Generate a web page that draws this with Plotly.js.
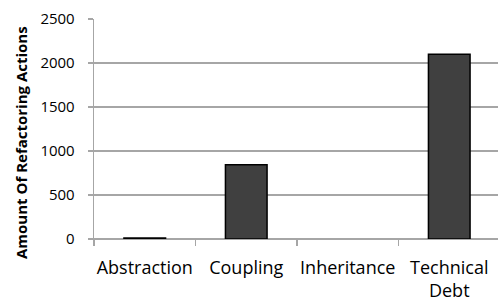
<!DOCTYPE html>
<html>
<head>
<meta charset="utf-8">
<script src="https://cdn.plot.ly/plotly-3.0.1.min.js"></script>
<style>html,body{margin:0;padding:0;overflow:hidden;background:#fff;}</style>
</head>
<body>
<div id="chart"></div>
<script>
const categories = ["Abstraction", "Coupling", "Inheritance", "Technical<br>Debt"];
const refactoringActions = [10, 845, 0, 2100];
const yTickValues = [0, 500, 1000, 1500, 2000, 2500];
const yTitle = "Amount Of Refactoring Actions";

const grid = "#a6a6a6";
const trace = {
  type: "bar",
  x: categories,
  y: refactoringActions,
  marker: {
    color: "#404040",
    line: {color: "#000000", width: refactoringActions.map(v => v === 0 ? 0 : 1.5)}
  },
  hoverinfo: "none"
};

const layout = {
  width: 500,
  height: 302,
  margin: {l: 94, r: 0, t: 19, b: 63, pad: 0},
  paper_bgcolor: "#ffffff",
  plot_bgcolor: "#ffffff",
  bargap: 0.59,
  showlegend: false,
  font: {family: "Open Sans, sans-serif", color: "#000000"},
  xaxis: {
    type: "category",
    tickson: "boundaries",
    tickangle: 0,
    ticks: "outside",
    ticklen: 6,
    tickcolor: grid,
    tickwidth: 1.3,
    ticklabelstandoff: 12,
    showline: true,
    linecolor: grid,
    linewidth: 1.3,
    showgrid: false,
    tickfont: {family: "Open Sans, sans-serif", size: 18, color: "#000"},
    fixedrange: true
  },
  yaxis: {
    range: [0, 2500],
    tickvals: yTickValues,
    ticktext: yTickValues.map(String),
    ticks: "outside",
    ticklen: 5,
    tickcolor: grid,
    tickwidth: 1.3,
    ticklabelstandoff: 10,
    showline: true,
    linecolor: grid,
    linewidth: 1.3,
    showgrid: true,
    gridcolor: grid,
    gridwidth: 1.3,
    zeroline: true,
    zerolinecolor: grid,
    zerolinewidth: 1.3,
    tickfont: {family: "Open Sans, sans-serif", size: 15, color: "#000"},
    fixedrange: true
  },
  annotations: [{
    text: "<b>" + yTitle + "</b>",
    textangle: -90,
    xref: "paper", yref: "paper",
    x: (21 - 94) / 406, y: (239 - 143) / 220,
    xanchor: "center", yanchor: "middle",
    showarrow: false,
    font: {family: "Open Sans, sans-serif", size: 15, color: "#000"}
  }]
};

Plotly.newPlot("chart", [trace], layout, {displayModeBar: false, staticPlot: true});
</script>
</body>
</html>
